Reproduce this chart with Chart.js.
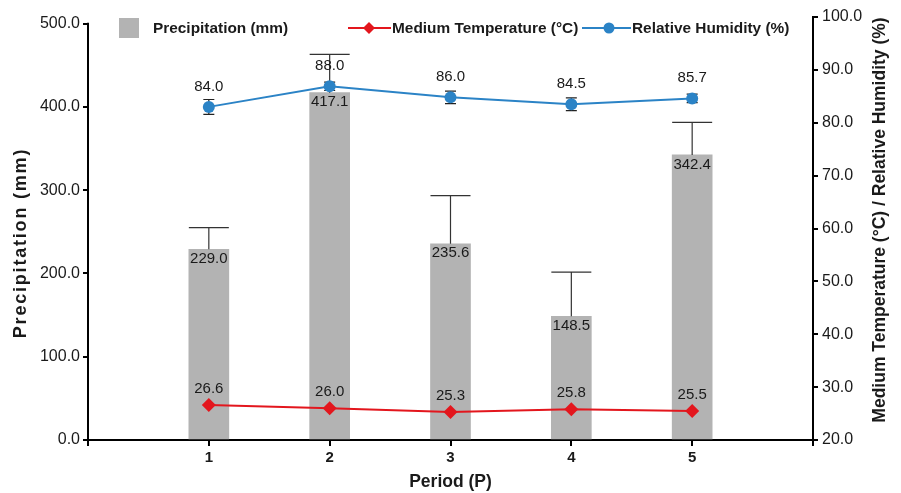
<!DOCTYPE html>
<html>
<head>
<meta charset="utf-8">
<script src="https://cdn.jsdelivr.net/npm/chart.js@4"></script>
<style>
  html, body { margin: 0; padding: 0; background: #fff; }
  #wrap { width: 901px; height: 493px; position: relative; }
</style>
</head>
<body>
<div id="wrap"><canvas id="myChart" width="901" height="493"></canvas></div>
<script>
// values
const periods = ["1", "2", "3", "4", "5"];
const precipitation = [229.0, 417.1, 235.6, 148.5, 342.4];
const precipitationSd = [26, 46, 58, 53, 39];
const temperature = [26.6, 26.0, 25.3, 25.8, 25.5];
const humidity = [83.0, 86.9, 84.8, 83.5, 84.6];
const humiditySd = [1.4, 0.8, 1.2, 1.2, 0.8];
const humidityLabels = ["84.0", "88.0", "86.0", "84.5", "85.7"];
const precipTicks = [0, 100, 200, 300, 400, 500];
const rightTicks = [20, 30, 40, 50, 60, 70, 80, 90, 100];

const GRAY = "#b3b3b3";
const RED = "#e3161d";
const BLUE = "#2b83c6";
const INK = "#1a1a1a";
const FONT = "'Liberation Sans', Arial, sans-serif";

Chart.defaults.font.family = FONT;
Chart.defaults.color = INK;

// empty slots on both ends so the periods sit one step in from the axes
const labels = ["", ...periods, ""];
const pad = (arr) => [null, ...arr, null];

function verticalText(ctx, text, x, y, spacing) {
  ctx.save();
  ctx.translate(x, y);
  ctx.rotate(-Math.PI / 2);
  if ("letterSpacing" in ctx) ctx.letterSpacing = spacing + "px";
  ctx.textAlign = "center";
  ctx.textBaseline = "middle";
  ctx.fillText(text, 0, 0);
  ctx.restore();
}

const errorBars = {
  id: "errorBars",
  beforeDatasetDraw(chart, args) {
    if (args.index !== 2) return;
    const { ctx } = chart;
    const y1 = chart.scales.y1;
    const meta = chart.getDatasetMeta(2);
    ctx.save();
    ctx.strokeStyle = "#222";
    ctx.lineWidth = 1.2;
    meta.data.forEach((pt, i) => {
      const k = i - 1;
      if (k < 0 || k >= humidity.length) return;
      const top = y1.getPixelForValue(humidity[k] + humiditySd[k]);
      const bot = y1.getPixelForValue(humidity[k] - humiditySd[k]);
      ctx.beginPath();
      ctx.moveTo(pt.x, top); ctx.lineTo(pt.x, bot);
      ctx.moveTo(pt.x - 5.5, top); ctx.lineTo(pt.x + 5.5, top);
      ctx.moveTo(pt.x - 5.5, bot); ctx.lineTo(pt.x + 5.5, bot);
      ctx.stroke();
    });
    ctx.restore();
  },
  afterDatasetDraw(chart, args) {
    if (args.index !== 0) return;
    const { ctx } = chart;
    const y = chart.scales.y;
    const meta = chart.getDatasetMeta(0);
    ctx.save();
    ctx.strokeStyle = "#333";
    ctx.lineWidth = 1.2;
    meta.data.forEach((bar, i) => {
      const k = i - 1;
      if (k < 0 || k >= precipitation.length) return;
      const top = y.getPixelForValue(precipitation[k] + precipitationSd[k]);
      const half = bar.width / 2;
      ctx.beginPath();
      ctx.moveTo(bar.x, bar.y); ctx.lineTo(bar.x, top);
      ctx.moveTo(bar.x - half, top); ctx.lineTo(bar.x + half, top);
      ctx.stroke();
    });
    ctx.restore();
  },
  afterDatasetsDraw(chart) {
    const { ctx } = chart;
    ctx.save();
    ctx.font = "15px " + FONT;
    ctx.fillStyle = INK;
    ctx.textAlign = "center";
    chart.getDatasetMeta(0).data.forEach((bar, i) => {
      const k = i - 1;
      if (k < 0 || k >= precipitation.length) return;
      ctx.textBaseline = "top";
      ctx.fillText(precipitation[k].toFixed(1), bar.x, bar.y + 2);
    });
    ctx.textBaseline = "bottom";
    chart.getDatasetMeta(1).data.forEach((pt, i) => {
      const k = i - 1;
      if (k < 0 || k >= temperature.length) return;
      ctx.fillText(temperature[k].toFixed(1), pt.x, pt.y - 9);
    });
    chart.getDatasetMeta(2).data.forEach((pt, i) => {
      const k = i - 1;
      if (k < 0 || k >= humidity.length) return;
      ctx.fillText(humidityLabels[k], pt.x, pt.y - 13);
    });
    ctx.restore();
  },
  afterDraw(chart) {
    const { ctx } = chart;
    const y = chart.scales.y;
    ctx.save();
    // left axis line stops at the 500 tick
    ctx.strokeStyle = "#000";
    ctx.lineWidth = 2;
    ctx.beginPath();
    ctx.moveTo(y.right, y.getPixelForValue(500) - 1);
    ctx.lineTo(y.right, y.bottom + 1);
    ctx.stroke();

    // axis titles
    ctx.fillStyle = INK;
    ctx.font = "bold 18px " + FONT;
    verticalText(ctx, "Precipitation (mm)", 21.5, 243, 1.8);
    ctx.font = "bold 17.5px " + FONT;
    verticalText(ctx, "Medium Temperature (°C) / Relative Humidity (%)", 880, 220, 0);

    // legend across the top
    ctx.fillStyle = GRAY;
    ctx.fillRect(119, 18, 20, 20);
    ctx.font = "bold 15.4px " + FONT;
    ctx.fillStyle = INK;
    ctx.textBaseline = "middle";
    ctx.textAlign = "left";
    ctx.fillText("Precipitation (mm)", 153, 29);

    ctx.strokeStyle = RED;
    ctx.lineWidth = 2;
    ctx.beginPath(); ctx.moveTo(348, 28); ctx.lineTo(391, 28); ctx.stroke();
    ctx.fillStyle = RED;
    ctx.beginPath();
    ctx.moveTo(369, 22); ctx.lineTo(375, 28); ctx.lineTo(369, 34); ctx.lineTo(363, 28);
    ctx.closePath(); ctx.fill();
    ctx.fillStyle = INK;
    ctx.fillText("Medium Temperature (°C)", 392, 29);

    ctx.strokeStyle = BLUE;
    ctx.beginPath(); ctx.moveTo(582, 28); ctx.lineTo(631, 28); ctx.stroke();
    ctx.fillStyle = BLUE;
    ctx.beginPath(); ctx.arc(609, 28, 5.5, 0, Math.PI * 2); ctx.fill();
    ctx.fillStyle = INK;
    ctx.fillText("Relative Humidity (%)", 632, 29);
    ctx.restore();
  }
};

const axisGrid = {
  display: true,
  drawOnChartArea: false,
  color: "#000",
  lineWidth: 2,
  tickLength: 6
};

new Chart(document.getElementById("myChart").getContext("2d"), {
  data: {
    labels: labels,
    datasets: [
      {
        type: "bar",
        label: "Precipitation (mm)",
        data: pad(precipitation),
        yAxisID: "y",
        backgroundColor: GRAY,
        barThickness: 40,
        order: 3
      },
      {
        type: "line",
        label: "Medium Temperature (°C)",
        data: pad(temperature),
        yAxisID: "y1",
        borderColor: RED,
        backgroundColor: RED,
        borderWidth: 2,
        pointStyle: "rectRot",
        pointRadius: 7,
        pointBorderWidth: 0,
        tension: 0,
        order: 2
      },
      {
        type: "line",
        label: "Relative Humidity (%)",
        data: pad(humidity),
        yAxisID: "y1",
        borderColor: BLUE,
        backgroundColor: BLUE,
        borderWidth: 2,
        pointStyle: "circle",
        pointRadius: 6,
        pointBorderWidth: 0,
        tension: 0,
        order: 1
      }
    ]
  },
  options: {
    responsive: false,
    animation: false,
    layout: { padding: { top: 17, left: 0, right: 0, bottom: 0 } },
    plugins: {
      legend: { display: false },
      tooltip: { enabled: false }
    },
    scales: {
      x: {
        type: "category",
        offset: false,
        grid: { ...axisGrid, offset: false },
        border: { color: "#000", width: 2 },
        ticks: {
          autoSkip: false,
          maxRotation: 0,
          padding: 3,
          color: INK,
          font: { size: 15, weight: "bold" }
        },
        title: {
          display: true,
          text: "Period (P)",
          color: INK,
          font: { size: 17.5, weight: "bold" },
          padding: { top: -1, bottom: 0 }
        },
        afterFit: (s) => { s.height = 53; }
      },
      y: {
        position: "left",
        min: 0,
        max: 508,
        grid: { ...axisGrid, tickLength: 5 },
        border: { display: false },
        afterBuildTicks: (s) => { s.ticks = precipTicks.map((v) => ({ value: v })); },
        ticks: {
          padding: 3,
          color: INK,
          font: { size: 16 },
          callback: (v) => Number(v).toFixed(1)
        },
        afterFit: (s) => { s.width = 88; }
      },
      y1: {
        position: "right",
        min: 20,
        max: 100,
        grid: { ...axisGrid, tickLength: 5 },
        border: { color: "#000", width: 2 },
        afterBuildTicks: (s) => { s.ticks = rightTicks.map((v) => ({ value: v })); },
        ticks: {
          padding: 4,
          color: INK,
          font: { size: 16 },
          callback: (v) => Number(v).toFixed(1)
        },
        afterFit: (s) => { s.width = 88; }
      }
    }
  },
  plugins: [errorBars]
});
</script>
</body>
</html>
